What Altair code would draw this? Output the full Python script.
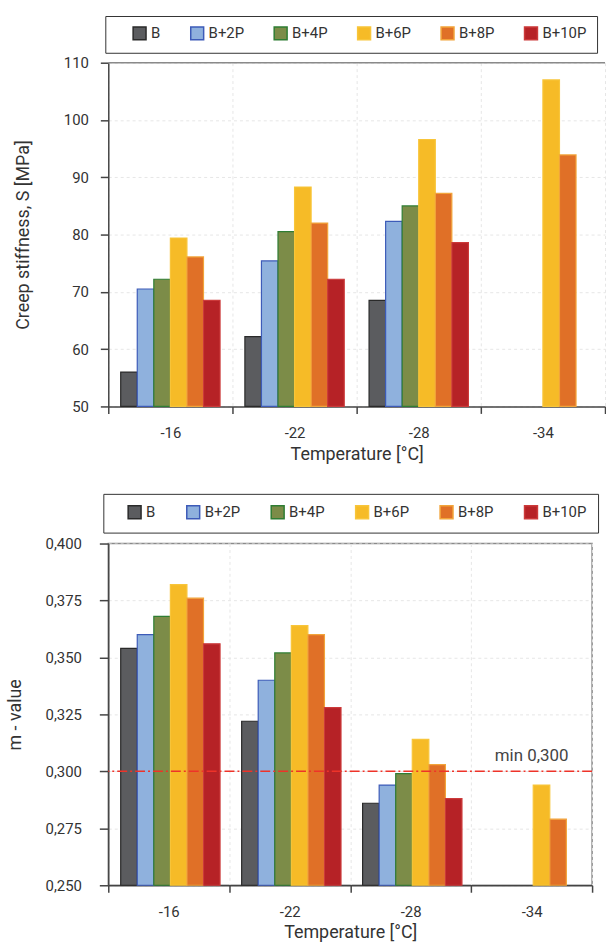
import altair as alt
import pandas as pd

temps = ["-16", "-22", "-28", "-34"]
series = ["B", "B+2P", "B+4P", "B+6P", "B+8P", "B+10P"]

# Creep stiffness S [MPa]
stiff = {
    "-16": [56.0, 70.5, 72.2, 79.4, 76.1, 68.5],
    "-22": [62.2, 75.4, 80.5, 88.3, 82.0, 72.2],
    "-28": [68.5, 82.3, 85.0, 96.6, 87.2, 78.6],
    "-34": [None, None, None, 107.0, 93.9, None],
}
# m-value
mval = {
    "-16": [0.354, 0.360, 0.368, 0.382, 0.376, 0.356],
    "-22": [0.322, 0.340, 0.352, 0.364, 0.360, 0.328],
    "-28": [0.286, 0.294, 0.299, 0.314, 0.303, 0.288],
    "-34": [None, None, None, 0.294, 0.279, None],
}
min_m = [0.300]
min_label = ["min 0,300"]

fills = ["#5b5c5f", "#8fb1dd", "#7c8c48", "#f6bb27", "#e07027", "#b62226"]
strokes = ["#2a2a2a", "#3d5bb8", "#2f7d33", "#f8c53a", "#f2a43a", "#cc3a3a"]


def to_df(d):
    rows = []
    for t in temps:
        for s, v in zip(series, d[t]):
            if v is not None:
                rows.append({"temp": t, "series": s, "value": v})
    return pd.DataFrame(rows)


FONT = "Roboto"
NB = "\u00a0"


def panel(df, ytitle, ydomain, yvalues, width, height, label_expr, colpad,
          title_pad, ylabel_pad, ytick, leg_pad, leg_left, n_nb, leg_x, leg_y):
    legend = alt.Legend(
        title=NB, titleOrient="left", titleFontSize=2, titlePadding=leg_left,
        orient="none", legendX=leg_x, legendY=leg_y, direction="horizontal",
        symbolType="square", symbolSize=169, symbolStrokeWidth=1.5,
        labelFont=FONT, labelFontSize=15, labelColor="#333", labelOffset=4,
        labelExpr="datum.label == 'B+10P' ? 'B+10P" + NB * n_nb + "' : datum.label",
        columnPadding=colpad, padding=leg_pad, strokeColor="#333",
    )
    bars = alt.Chart(df).mark_bar(strokeWidth=1.2).encode(
        x=alt.X("temp:N", sort=temps,
                scale=alt.Scale(domain=temps, paddingInner=0, paddingOuter=0),
                axis=alt.Axis(title="Temperature [°C]", labelAngle=0, tickBand="extent",
                              grid=True, gridDash=[3, 3], gridColor="#e6e6e6",
                              tickSize=7, tickColor="#444", tickWidth=1.5,
                              domainColor="#444", domainWidth=1.5,
                              labelPadding=12, titlePadding=5)),
        xOffset=alt.XOffset("series:N", sort=series,
                            scale=alt.Scale(domain=series, paddingInner=0, paddingOuter=0.75)),
        y=alt.Y("value:Q",
                scale=alt.Scale(domain=ydomain, nice=False, zero=False),
                axis=alt.Axis(title=ytitle, values=yvalues, labelExpr=label_expr,
                              grid=True, gridDash=[3, 3], gridColor="#e6e6e6",
                              tickSize=ytick, tickColor="#444", tickWidth=1.5,
                              domainColor="#444", domainWidth=1.5,
                              labelPadding=ylabel_pad, titlePadding=title_pad)),
        y2=alt.Y2(datum=ydomain[0]),
        fill=alt.Fill("series:N", sort=series, scale=alt.Scale(domain=series, range=fills), legend=legend),
        stroke=alt.Stroke("series:N", sort=series, scale=alt.Scale(domain=series, range=strokes), legend=legend),
    ).properties(width=width, height=height)
    return bars


top_bars = panel(to_df(stiff), "Creep stiffness, S [MPa]", [50, 110], [50, 60, 70, 80, 90, 100, 110],
                 500, 346, "format(datum.value, 'd')", 27, 31, 12, 8, 10, 17, 0, -3, -47)
top_border = alt.Chart(pd.DataFrame({"y": [110]})).mark_rule(color="#8a8a8a", strokeWidth=1.5).encode(
    y=alt.Y("y:Q")
)
top = alt.layer(top_bars, top_border).properties(view=alt.ViewBackground(stroke=None))

bottom_bars = panel(to_df(mval), "m - value", [0.25, 0.40],
                    [0.25, 0.275, 0.30, 0.325, 0.35, 0.375, 0.40],
                    487, 344, "replace(format(datum.value, '.3f'), '.', ',')", 28, 21, 18, 9, 11, 13, 4, -5, -50)

ref_df = pd.DataFrame({"y": min_m, "label": min_label, "temp": ["-34"]})
rule = alt.Chart(ref_df).mark_rule(color="#ee3329", strokeDash=[10, 3, 2, 3], strokeWidth=1.5).encode(
    y=alt.Y("y:Q")
)
txt = alt.Chart(ref_df).mark_text(font=FONT, fontSize=17, color="#444", dy=-15, dx=0).encode(
    x=alt.X("temp:N", sort=temps), y=alt.Y("y:Q"), text="label:N"
)
bottom = alt.layer(bottom_bars, rule, txt)

chart = alt.vconcat(top, bottom, spacing=29).resolve_scale(
    fill="independent", stroke="independent"
).resolve_legend(fill="independent", stroke="independent").properties(
    padding={"left": 5, "top": 12, "right": 0, "bottom": 0},
    background="white",
).configure_axis(
    labelFont=FONT, labelFontSize=15, labelColor="#333",
    titleFont=FONT, titleFontSize=18, titleFontWeight="normal", titleColor="#333",
).configure_view(stroke="#8a8a8a", strokeWidth=1.5)

chart.save("out.html", embed_options={"renderer": "svg", "actions": False})
